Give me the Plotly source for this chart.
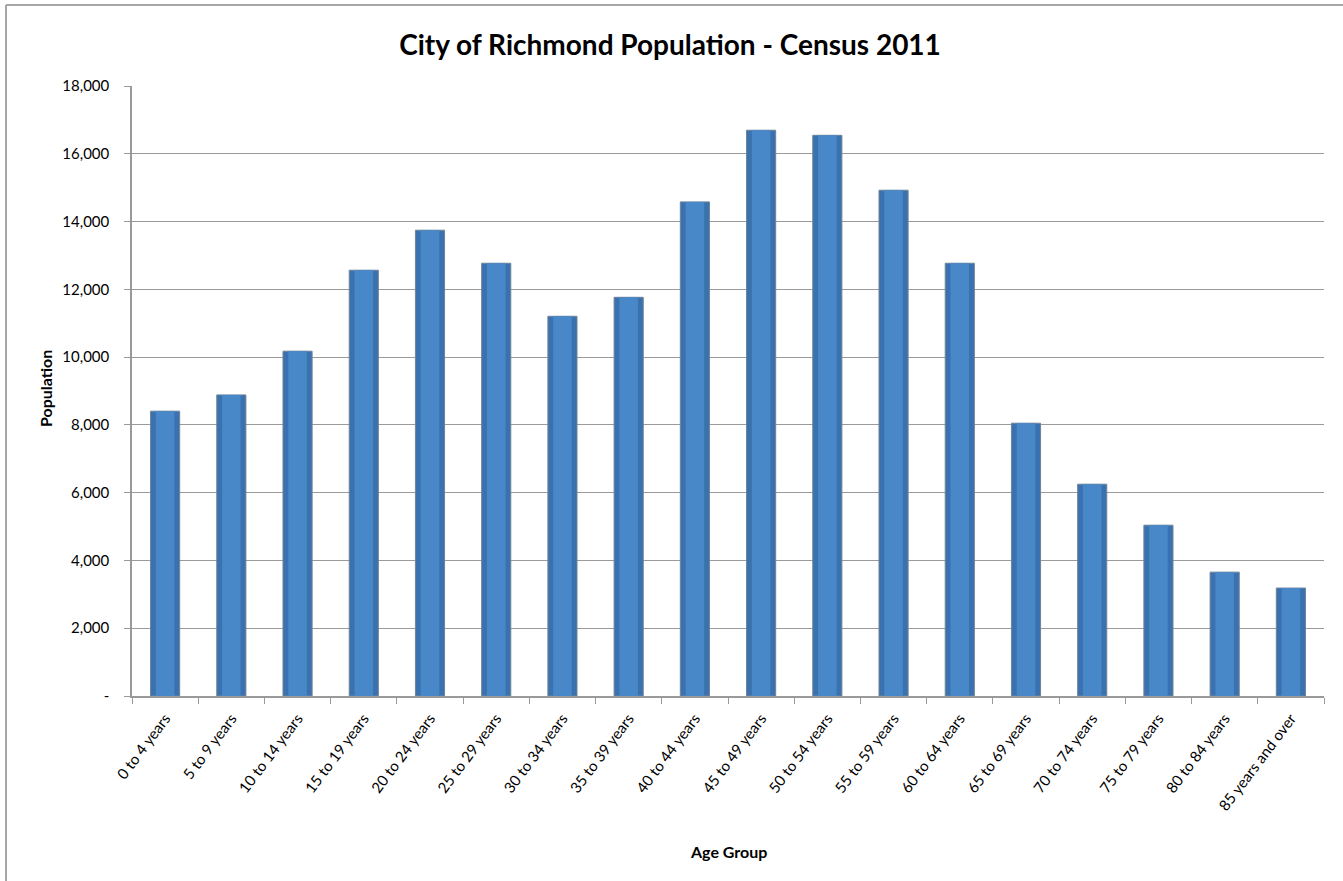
import plotly.graph_objects as go

categories = ["0 to 4 years", "5 to 9 years", "10 to 14 years", "15 to 19 years",
              "20 to 24 years", "25 to 29 years", "30 to 34 years", "35 to 39 years",
              "40 to 44 years", "45 to 49 years", "50 to 54 years", "55 to 59 years",
              "60 to 64 years", "65 to 69 years", "70 to 74 years", "75 to 79 years",
              "80 to 84 years", "85 years and over"]
population = [8405, 8885, 10175, 12565, 13745, 12770, 11205, 11765,
              14580, 16695, 16545, 14925, 12770, 8050, 6250, 5040, 3655, 3185]
y_ticks = [0, 2000, 4000, 6000, 8000, 10000, 12000, 14000, 16000, 18000]
y_tick_text = ["-", "2,000", "4,000", "6,000", "8,000", "10,000", "12,000",
               "14,000", "16,000", "18,000"]

W, H = 1343, 881
L, R, T, B = 132, 1324, 86, 696
FONT = "Lato"

fig = go.Figure()
# bar body (darker edges)
fig.add_trace(go.Bar(
    x=categories, y=population, width=0.44,
    marker=dict(color="#3A72AF", line=dict(color="#6F8499", width=1)),
    hoverinfo="x+y",
))
# lighter centre to suggest the rounded shading
fig.add_trace(go.Bar(
    x=categories, y=population, width=0.28,
    marker=dict(color="#4887C8", line=dict(width=0)),
    hoverinfo="skip",
))

def px_x(p):
    return (p - L) / (R - L)

def px_y(p):
    return (B - p) / (B - T)

fig.update_layout(
    width=W, height=H,
    margin=dict(l=L, r=W - R, t=T, b=H - B, pad=0),
    paper_bgcolor="white", plot_bgcolor="white",
    barmode="overlay",
    showlegend=False,
    font=dict(family=FONT, color="#000000", size=14),
    title=dict(text="<b>City of Richmond Population - Census 2011</b>",
               x=px_x(670), xref="paper", xanchor="center",
               y=1 - 45 / H, yanchor="middle",
               font=dict(family=FONT, size=28, color="#000000")),
    xaxis=dict(
        type="category", range=[-0.5, 17.5],
        tickangle=-53, tickfont=dict(size=15, family=FONT),
        ticks="outside", ticklen=6, tickcolor="#999999", tickwidth=1,
        tickson="boundaries", ticklabelstandoff=6,
        showline=True, linecolor="#999999", linewidth=1.5,
        showgrid=False,
    ),
    yaxis=dict(
        range=[0, 18000], tickvals=y_ticks, ticktext=y_tick_text,
        tickfont=dict(size=15, family=FONT),
        ticks="outside", ticklen=6, tickcolor="#999999", tickwidth=1,
        ticklabelstandoff=12,
        showline=True, linecolor="#999999", linewidth=1.5,
        showgrid=True, gridcolor="#9a9a9a", gridwidth=1,
        zeroline=False,
    ),
    annotations=[
        dict(text="<b>Age Group</b>", xref="paper", yref="paper",
             x=px_x(728), y=px_y(851), xanchor="center", yanchor="middle",
             showarrow=False, font=dict(size=16, family=FONT, color="#000000")),
        dict(text="<b>Population</b>", xref="paper", yref="paper",
             x=px_x(45), y=px_y(389), xanchor="center", yanchor="middle",
             textangle=-90, showarrow=False,
             font=dict(size=16, family=FONT, color="#000000")),
    ],
)

# outer chart frame (cut off on right and bottom)
fig.add_shape(type="line", xref="paper", yref="paper",
              x0=px_x(6), x1=px_x(1400), y0=px_y(5), y1=px_y(5),
              line=dict(color="#a6a6a6", width=2))
fig.add_shape(type="line", xref="paper", yref="paper",
              x0=px_x(6), x1=px_x(6), y0=px_y(5), y1=px_y(900),
              line=dict(color="#a6a6a6", width=2))

fig.write_html("out.html")
